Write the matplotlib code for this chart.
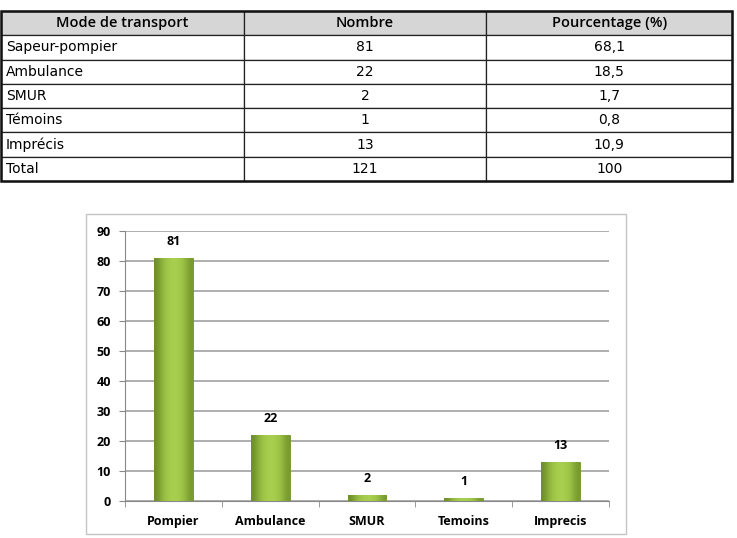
import numpy as np
from matplotlib import pyplot as plt
from matplotlib.patches import Rectangle
from matplotlib.colors import LinearSegmentedColormap

# Données du tableau
modes = ['Sapeur-pompier', 'Ambulance', 'SMUR', 'Témoins', 'Imprécis', 'Total']
nombres = ['81', '22', '2', '1', '13', '121']
pourcentages = ['68,1', '18,5', '1,7', '0,8', '10,9', '100']
entetes = ['Mode de transport', 'Nombre', 'Pourcentage (%)']

# Données du graphique
categories = ['Pompier', 'Ambulance', 'SMUR', 'Temoins', 'Imprecis']
valeurs = [81, 22, 2, 1, 13]

W, H = 737, 538
fig = plt.figure(figsize=(W / 100, H / 100), dpi=100)

# Tableau
tab_ax = fig.add_axes([0, 0, 1, 1])
tab_ax.axis('off')
cells = [[m, n, p] for m, n, p in zip(modes, nombres, pourcentages)]
tb = tab_ax.table(cellText=cells, colLabels=entetes,
                  colWidths=[243, 243, 246],
                  bbox=[1 / W, 1 - 181 / H, 731 / W, 170 / H])
tb.auto_set_font_size(False)
for (r, c), cell in tb.get_celld().items():
    cell.set_linewidth(0.9)
    cell.set_edgecolor('#222222')
    txt = cell.get_text()
    if r == 0:
        cell.set_facecolor('#d6d6d6')
        txt.set_ha('center')
        txt.set_family('Open Sans')
        txt.set_fontweight('semibold')
        txt.set_fontsize(10.5)
    else:
        txt.set_family('DejaVu Sans')
        txt.set_fontsize(10)
        if c == 0:
            txt.set_ha('left')
            cell.PAD = 0.02
        else:
            txt.set_ha('center')
            cell._loc = 'center'
tab_ax.add_patch(Rectangle((1 / W, 1 - 181 / H), 731 / W, 170 / H, fill=False,
                           lw=1.8, edgecolor='#111111', transform=fig.transFigure))

# Cadre du graphique
fig.patches.append(Rectangle((86 / W, 1 - 534 / H), 540 / W, 320 / H, fill=False,
                             lw=1.0, edgecolor='#c4c4c4', transform=fig.transFigure))

ax = fig.add_axes([125 / W, 1 - 501 / H, 484 / W, 270 / H])
x = np.arange(len(categories))
bars = ax.bar(x, valeurs, width=0.4, color='#9bc243', edgecolor='#6f8f2a', lw=0.6, zorder=3)

# Dégradé horizontal sur les barres
grad = np.array([[0.0, 0.6, 0.9, 1.0, 0.95, 0.7, 0.15]])
cmap = LinearSegmentedColormap.from_list('vert', ['#6e8f28', '#a9d04f'])
for b in bars:
    bx, by = b.get_x(), b.get_y()
    bw, bh = b.get_width(), b.get_height()
    im = ax.imshow(grad, cmap=cmap, aspect='auto', interpolation='bicubic',
                   extent=[bx, bx + bw, by, by + bh], zorder=3.5)
    im.set_clip_path(b)

for i, v in enumerate(valeurs):
    ax.annotate(str(v), (x[i], v), xytext=(0, 7), textcoords='offset points',
                ha='center', va='bottom', fontsize=9, fontweight='bold', family='Open Sans')

ax.set_xlim(-0.5, len(categories) - 0.5)
ax.set_ylim(0, 90)
ax.set_yticks(range(0, 91, 10))
ax.yaxis.grid(True, color='#a8a8a8', lw=1.3, zorder=0)
ax.set_axisbelow(True)
ax.set_xticks(x)
ax.set_xticklabels(categories)
ax.set_xticks(np.arange(-0.5, len(categories)), minor=True)
ax.tick_params(axis='x', which='major', length=0, pad=10)
ax.tick_params(axis='x', which='minor', length=4, color='#888888')
ax.tick_params(axis='y', length=4, color='#888888', pad=6)
for lab in ax.get_xticklabels() + ax.get_yticklabels():
    lab.set_fontweight('bold')
    lab.set_fontsize(9)
    lab.set_family('Open Sans')
for s in ['top', 'right']:
    ax.spines[s].set_visible(False)
for s in ['left', 'bottom']:
    ax.spines[s].set_color('#888888')
ax.set_facecolor('none')

fig.savefig('out.png', dpi=100)
